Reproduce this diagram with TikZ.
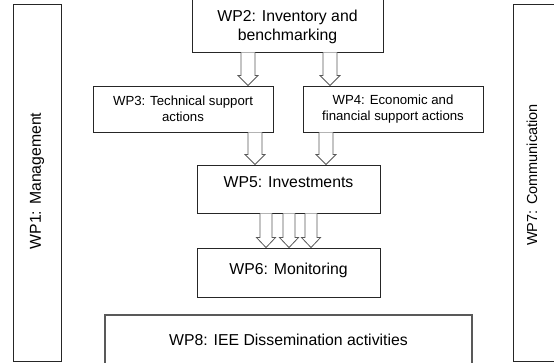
\documentclass[tikz,border=0pt]{standalone}
\usepackage{fontspec}
\setmainfont{Liberation Sans}
\begin{document}
\begin{tikzpicture}[x=1pt,y=-1pt,
  box/.style={draw=black!85,line width=0.9pt,fill=white,inner sep=0pt,align=center},
  big/.style={font=\fontsize{15.8}{19.5}\selectfont},
  small/.style={font=\fontsize{13.2}{16.5}\selectfont},
  harrow/.style={draw=black!65,line width=0.8pt,fill=white,line join=miter}]
\useasboundingbox (0,0) rectangle (554,363);
\clip (0,0) rectangle (554,363);
% side boxes
\node[box,minimum width=48pt,minimum height=357pt] (wp1) at (37,182.5) {};
\node[rotate=90,big] (wp1t) at (37,181) {WP1: Management};
\node[box,minimum width=60pt,minimum height=357pt] (wp7) at (543,182.5) {};
\node[rotate=90,font=\fontsize{14.5}{17}\selectfont] (wp7t) at (532,175) {WP7: Communication};
% WP2
\node[box,minimum width=191pt,minimum height=60pt] (wp2) at (287.5,22) {};
\node[big,align=center] (wp2t) at (287.5,27) {WP2: Inventory and\\benchmarking};
% WP3, WP4
\node[box,small,minimum width=180pt,minimum height=46pt] (wp3) at (183,109) {WP3: Technical support\\actions};
\node[box,small,minimum width=180pt,minimum height=46pt] (wp4) at (393,109) {WP4: Economic and\\financial support actions};
% WP5, WP6
\node[box,minimum width=183pt,minimum height=48pt] (wp5) at (288.5,189) {};
\node[big] (wp5t) at (288.5,182) {WP5: Investments};
\node[box,minimum width=183pt,minimum height=49pt] (wp6) at (288.5,272.5) {};
\node[big] (wp6t) at (288.5,270) {WP6: Monitoring};
% WP8
\node[box,draw=black!65,line width=1.2pt,minimum width=367pt,minimum height=70pt] (wp8) at (288.5,350) {};
\node[big] (wp8t) at (288.5,340) {WP8: IEE Dissemination activities};
% arrow columns
\coordinate (c1) at (248,0);
\coordinate (c2) at (330,0);
\coordinate (c3) at (255,0);
\coordinate (c4) at (326,0);
\coordinate (c5) at (266,0);
\coordinate (c6) at (289,0);
\coordinate (c7) at (311,0);
\newcommand\hollowarrow[5]{% column, source, target, shaft half width, head half width
  \draw[harrow] ([xshift=-#4]#1 |- #2.south) -- ([xshift=-#4,yshift=10pt]#1 |- #3.north)
    -- ([xshift=-#5,yshift=10pt]#1 |- #3.north) -- (#1 |- #3.north)
    -- ([xshift=#5,yshift=10pt]#1 |- #3.north) -- ([xshift=#4,yshift=10pt]#1 |- #3.north)
    -- ([xshift=#4]#1 |- #2.south);}
\hollowarrow{c1}{wp2}{wp3}{7pt}{10pt}
\hollowarrow{c2}{wp2}{wp4}{7pt}{10pt}
\hollowarrow{c3}{wp3}{wp5}{7pt}{10pt}
\hollowarrow{c4}{wp4}{wp5}{7pt}{10pt}
\hollowarrow{c5}{wp5}{wp6}{6pt}{9.5pt}
\hollowarrow{c6}{wp5}{wp6}{6pt}{9.5pt}
\hollowarrow{c7}{wp5}{wp6}{6pt}{9.5pt}
\end{tikzpicture}
\end{document}
